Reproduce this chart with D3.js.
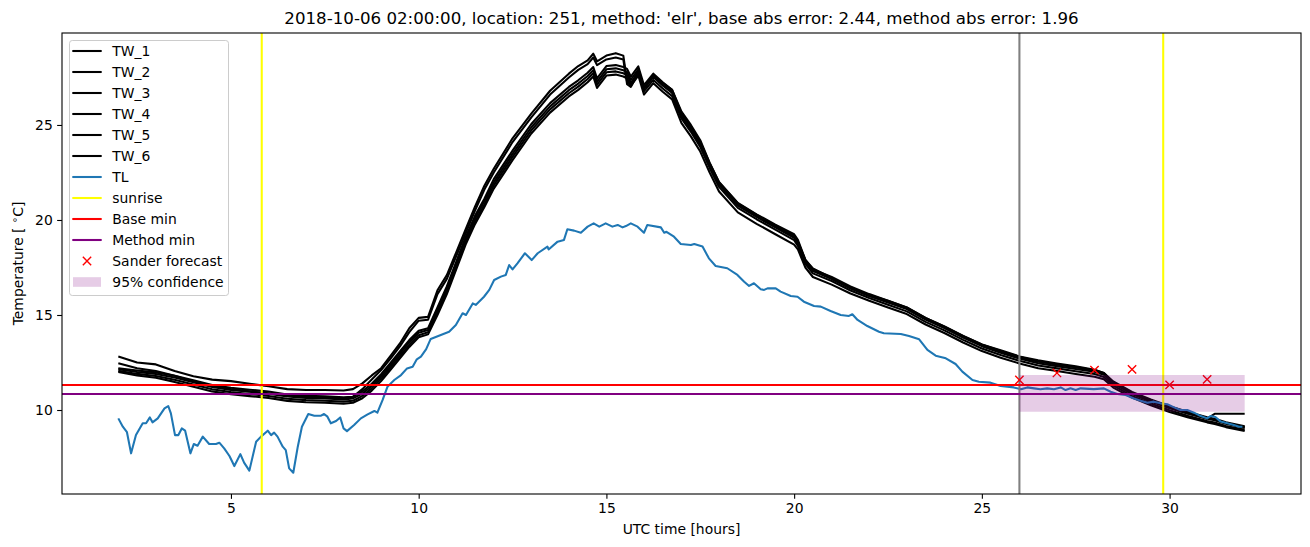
<!DOCTYPE html>
<html>
<head>
<meta charset="utf-8">
<script src="https://cdn.jsdelivr.net/npm/d3@7"></script>
<style>
  html, body { margin: 0; padding: 0; background: #fff; }
  svg { display: block; font-family: "DejaVu Sans", sans-serif; }
</style>
</head>
<body>
<svg id="chart" width="1310" height="547"></svg>
<script>
// ---------------- data ----------------
const twHours = [2, 2.5, 3, 3.5, 4, 4.5, 5, 5.5, 6, 6.5, 7, 7.5, 8, 8.25, 8.5, 8.75, 9, 9.25, 9.5, 9.75,
  10, 10.25, 10.5, 10.75, 11, 11.25, 11.5, 11.75, 12, 12.5, 13, 13.5, 14, 14.25, 14.5, 14.65, 14.75, 15, 15.25, 15.45,
  15.55, 15.65, 15.85, 16, 16.25, 16.5, 16.75, 17, 17.25, 17.5, 17.75, 18, 18.5, 19, 19.5, 20, 20.1, 20.3, 20.5, 21,
  21.5, 22, 22.5, 23, 23.5, 24, 24.5, 25, 25.5, 26, 26.5, 27, 27.5, 28, 28.25, 28.5, 29, 29.5, 30, 30.5,
  31, 31.2, 31.5, 32];

const TW_1 = [12.81, 12.50, 12.40, 12.05, 11.78, 11.60, 11.52, 11.38, 11.25, 11.10, 11.05, 11.05, 11.03, 11.10, 11.40, 11.82, 12.20, 12.85, 13.50, 14.30,
  14.85, 14.90, 16.30, 17.10, 18.30, 19.50, 20.70, 21.80, 22.70, 24.30, 25.60, 26.80, 27.70, 28.10, 28.40, 28.75, 28.35, 28.65, 28.78, 28.65,
  27.30, 27.10, 27.85, 26.95, 27.65, 27.20, 26.85, 25.70, 25.00, 24.20, 23.00, 22.00, 20.90, 20.30, 19.75, 19.25, 18.95, 17.90, 17.45, 16.95,
  16.45, 16.05, 15.75, 15.40, 14.85, 14.40, 13.90, 13.45, 13.15, 12.82, 12.62, 12.45, 12.30, 12.12, 11.95, 11.45, 10.90, 10.50, 10.15, 9.85,
  9.58, 9.50, 9.32, 9.10];
const TW_2 = [12.46, 12.20, 12.05, 11.80, 11.50, 11.25, 11.10, 10.98, 10.88, 10.75, 10.70, 10.65, 10.62, 10.70, 11.10, 11.60, 12.10, 12.70, 13.35, 14.10,
  14.70, 14.75, 16.10, 16.90, 18.10, 19.30, 20.50, 21.60, 22.50, 24.10, 25.40, 26.60, 27.50, 27.90, 28.20, 28.55, 28.15, 28.45, 28.55, 28.45,
  27.15, 27.00, 27.75, 26.90, 27.55, 27.10, 26.75, 25.60, 24.90, 24.10, 22.90, 21.90, 20.80, 20.20, 19.65, 19.10, 18.80, 17.85, 17.35, 16.90,
  16.40, 16.00, 15.70, 15.35, 14.80, 14.35, 13.85, 13.40, 13.05, 12.75, 12.55, 12.40, 12.25, 12.05, 11.90, 11.40, 10.85, 10.45, 10.10, 9.80,
  9.55, 9.80, 9.80, 9.80];
const TW_3 = [12.20, 12.08, 11.98, 11.80, 11.56, 11.32, 11.17, 11.07, 10.97, 10.82, 10.75, 10.72, 10.67, 10.70, 10.98, 11.38, 11.88, 12.48, 13.08, 13.68,
  14.17, 14.30, 15.40, 16.50, 17.80, 19.10, 20.22, 21.12, 22.15, 23.65, 25.05, 26.15, 27.00, 27.35, 27.75, 28.05, 27.45, 28.10, 28.15, 28.05,
  27.95, 27.55, 28.08, 27.10, 27.70, 27.25, 26.85, 25.60, 24.90, 24.10, 23.00, 21.98, 20.88, 20.27, 19.72, 19.17, 18.86, 17.90, 17.40, 17.00,
  16.50, 16.10, 15.75, 15.40, 14.85, 14.40, 13.90, 13.45, 13.10, 12.80, 12.55, 12.40, 12.25, 12.10, 11.95, 11.50, 10.95, 10.55, 10.20, 9.90,
  9.62, 9.54, 9.36, 9.14];
const TW_4 = [12.14, 12.00, 11.90, 11.71, 11.46, 11.21, 11.06, 10.96, 10.86, 10.71, 10.64, 10.61, 10.56, 10.61, 10.86, 11.26, 11.76, 12.36, 12.96, 13.57,
  14.06, 14.21, 15.27, 16.37, 17.68, 18.98, 20.08, 20.98, 21.98, 23.48, 24.88, 25.98, 26.83, 27.18, 27.58, 27.88, 27.28, 27.93, 27.98, 27.88,
  27.78, 27.38, 27.93, 26.93, 27.53, 27.08, 26.68, 25.46, 24.76, 23.96, 22.86, 21.86, 20.76, 20.16, 19.61, 19.06, 18.76, 17.81, 17.31, 16.91,
  16.41, 16.01, 15.66, 15.31, 14.76, 14.31, 13.81, 13.36, 13.01, 12.71, 12.46, 12.31, 12.16, 12.01, 11.86, 11.41, 10.86, 10.46, 10.11, 9.81,
  9.54, 9.46, 9.28, 9.06];
const TW_5 = [12.06, 11.90, 11.79, 11.59, 11.34, 11.09, 10.94, 10.84, 10.74, 10.59, 10.52, 10.49, 10.44, 10.49, 10.74, 11.14, 11.64, 12.24, 12.84, 13.43,
  13.94, 14.09, 15.13, 16.23, 17.52, 18.82, 19.92, 20.82, 21.82, 23.32, 24.72, 25.82, 26.67, 27.02, 27.42, 27.72, 27.12, 27.77, 27.82, 27.72,
  27.62, 27.22, 27.77, 26.77, 27.37, 26.92, 26.52, 25.34, 24.64, 23.84, 22.74, 21.74, 20.64, 20.04, 19.49, 18.94, 18.64, 17.69, 17.19, 16.79,
  16.29, 15.89, 15.54, 15.19, 14.64, 14.19, 13.69, 13.24, 12.89, 12.59, 12.34, 12.19, 12.04, 11.89, 11.74, 11.29, 10.74, 10.34, 9.99, 9.69,
  9.42, 9.34, 9.16, 8.96];
const TW_6 = [12.00, 11.82, 11.70, 11.48, 11.23, 10.98, 10.83, 10.73, 10.63, 10.48, 10.41, 10.38, 10.33, 10.38, 10.62, 11.02, 11.52, 12.12, 12.72, 13.32,
  13.83, 13.98, 15.00, 16.10, 17.40, 18.70, 19.78, 20.68, 21.65, 23.15, 24.55, 25.65, 26.50, 26.85, 27.25, 27.55, 26.95, 27.60, 27.65, 27.55,
  27.45, 27.05, 27.60, 26.60, 27.20, 26.75, 26.35, 25.10, 24.40, 23.60, 22.50, 21.50, 20.40, 19.80, 19.25, 18.70, 18.45, 17.50, 17.00, 16.60,
  16.13, 15.75, 15.40, 15.05, 14.50, 14.05, 13.55, 13.10, 12.75, 12.45, 12.20, 12.05, 11.90, 11.75, 11.62, 11.18, 10.65, 10.25, 9.90, 9.60,
  9.35, 9.27, 9.10, 8.90];

const tlHours = [2.0, 2.12, 2.23, 2.34, 2.47, 2.65, 2.74, 2.84, 2.91, 3.05, 3.23, 3.33, 3.40, 3.51, 3.60, 3.69, 3.78, 3.92, 4.01, 4.11,
  4.25, 4.42, 4.60, 4.69, 4.82, 4.96, 5.09, 5.25, 5.35, 5.49, 5.67, 5.80, 5.98, 6.07, 6.15, 6.24, 6.38, 6.46, 6.55, 6.66,
  6.78, 6.89, 7.06, 7.22, 7.40, 7.48, 7.57, 7.66, 7.80, 7.91, 8.00, 8.09, 8.28, 8.46, 8.64, 8.82, 8.90, 9.04, 9.17, 9.35,
  9.53, 9.69, 9.84, 9.95, 10.06, 10.20, 10.32, 10.59, 10.81, 10.99, 11.17, 11.26, 11.44, 11.52, 11.74, 11.88, 12.01, 12.19, 12.32, 12.41,
  12.50, 12.63, 12.83, 13.01, 13.17, 13.43, 13.46, 13.70, 13.87, 13.96, 14.14, 14.32, 14.50, 14.66, 14.81, 14.98, 15.16, 15.30, 15.43, 15.52,
  15.65, 15.83, 16.00, 16.09, 16.45, 16.54, 16.60, 16.80, 16.98, 17.25, 17.34, 17.56, 17.73, 17.91, 18.22, 18.49, 18.67, 18.80, 18.93, 19.11,
  19.20, 19.29, 19.51, 19.64, 19.91, 20.09, 20.26, 20.53, 20.71, 20.97, 21.24, 21.46, 21.55, 21.69, 21.95, 22.26, 22.39, 22.84, 23.06, 23.33,
  23.55, 23.77, 24.04, 24.30, 24.48, 24.75, 24.92, 25.23, 25.50, 25.85, 26.04, 26.21, 26.39, 26.56, 26.74, 26.92, 27.10, 27.23, 27.36, 27.50,
  27.63, 27.98, 28.25, 28.43, 28.61, 28.83, 29.05, 29.23, 29.41, 29.58, 29.76, 29.94, 30.12, 30.29, 30.47, 30.65, 30.83, 31.00, 31.09, 31.22,
  31.36, 31.54, 31.71, 31.85, 31.94];
const TL = [9.56, 9.12, 8.83, 7.72, 8.68, 9.30, 9.30, 9.61, 9.35, 9.56, 10.09, 10.21, 9.82, 8.68, 8.68, 9.03, 8.91, 7.72, 8.21, 8.12,
  8.60, 8.21, 8.21, 8.28, 7.98, 7.58, 7.05, 7.68, 7.23, 6.81, 8.33, 8.60, 8.91, 8.68, 8.81, 8.60, 8.07, 7.89, 6.93, 6.70,
  8.07, 9.12, 9.79, 9.70, 9.70, 9.79, 9.65, 9.30, 9.42, 9.61, 9.03, 8.89, 9.21, 9.56, 9.77, 9.95, 9.86, 10.53, 11.23, 11.58,
  11.84, 12.19, 12.28, 12.67, 12.81, 13.20, 13.74, 13.95, 14.12, 14.47, 15.09, 15.00, 15.61, 15.53, 15.96, 16.32, 16.84, 17.02, 17.11, 17.63,
  17.40, 17.72, 18.25, 17.89, 18.25, 18.60, 18.45, 18.86, 18.95, 19.51, 19.44, 19.33, 19.65, 19.82, 19.65, 19.82, 19.65, 19.74, 19.61, 19.68,
  19.82, 19.65, 19.33, 19.74, 19.61, 19.33, 19.38, 19.12, 18.74, 18.68, 18.74, 18.60, 17.98, 17.58, 17.46, 17.11, 16.75, 16.53, 16.67, 16.35,
  16.32, 16.40, 16.40, 16.23, 16.00, 15.96, 15.70, 15.47, 15.44, 15.21, 15.00, 14.95, 15.04, 14.74, 14.42, 14.12, 14.04, 14.00, 13.89, 13.72,
  13.16, 12.86, 12.72, 12.42, 12.02, 11.58, 11.49, 11.44, 11.26, 11.19, 11.09, 11.19, 11.14, 11.09, 11.14, 11.09, 11.19, 11.05, 11.14, 11.05,
  11.14, 11.10, 11.14, 10.96, 10.84, 10.79, 10.61, 10.49, 10.38, 10.44, 10.35, 10.30, 10.14, 10.00, 10.00, 9.86, 9.68, 9.56, 9.68, 9.63,
  9.39, 9.30, 9.21, 9.12, 9.12];

const sunriseHours = [5.82, 29.83];
const nowHour = [26.0];
const baseMin = [11.32];
const methodMin = [10.84];
const sanderHours = [26, 27, 28, 29, 30, 31];
const sanderValues = [11.58, 11.95, 12.10, 12.14, 11.32, 11.61];
const confHours = [26, 32];
const confLow = [9.91, 9.91];
const confHigh = [11.84, 11.84];

const xTicks = [5, 10, 15, 20, 25, 30];
const yTicks = [10, 15, 20, 25];
const legendLabels = ["TW_1", "TW_2", "TW_3", "TW_4", "TW_5", "TW_6", "TL", "sunrise", "Base min", "Method min", "Sander forecast", "95% confidence"];
const titleText = "2018-10-06 02:00:00, location: 251, method: 'elr', base abs error: 2.44, method abs error: 1.96";

// ---------------- layout ----------------
const L = 62, R = 1301, T = 33, B = 494;
const LW = 2.08;
const svg = d3.select("#chart");
const x = d3.scaleLinear().domain([0.5, 33.5]).range([L, R]);
const y = d3.scaleLinear().domain([5.58, 29.84]).range([B, T]);

svg.append("defs").append("clipPath").attr("id", "clip")
  .append("rect").attr("x", L).attr("y", T).attr("width", R - L).attr("height", B - T);

const plot = svg.append("g").attr("clip-path", "url(#clip)");

const line = d3.line().x(d => x(d[0])).y(d => y(d[1]));
const twSeries = [TW_1, TW_2, TW_3, TW_4, TW_5, TW_6];
twSeries.forEach(vals => {
  plot.append("path")
    .attr("d", line(twHours.map((h, i) => [h, vals[i]])))
    .attr("fill", "none").attr("stroke", "#000").attr("stroke-width", LW)
    .attr("stroke-linejoin", "round");
});
plot.append("path")
  .attr("d", line(tlHours.map((h, i) => [h, TL[i]])))
  .attr("fill", "none").attr("stroke", "#1f77b4").attr("stroke-width", LW)
  .attr("stroke-linejoin", "round");

// vertical lines
sunriseHours.forEach(h => {
  plot.append("line").attr("x1", x(h)).attr("x2", x(h)).attr("y1", T).attr("y2", B)
    .attr("stroke", "#ffff00").attr("stroke-width", LW);
});
nowHour.forEach(h => {
  plot.append("line").attr("x1", x(h)).attr("x2", x(h)).attr("y1", T).attr("y2", B)
    .attr("stroke", "#808080").attr("stroke-width", LW);
});
// horizontal lines
plot.append("line").attr("x1", L).attr("x2", R).attr("y1", y(baseMin[0])).attr("y2", y(baseMin[0]))
  .attr("stroke", "#ff0000").attr("stroke-width", LW);
plot.append("line").attr("x1", L).attr("x2", R).attr("y1", y(methodMin[0])).attr("y2", y(methodMin[0]))
  .attr("stroke", "#800080").attr("stroke-width", LW);

// sander markers
const mk = 4.17;
sanderHours.forEach((h, i) => {
  const cx = x(h), cy = y(sanderValues[i]);
  plot.append("path")
    .attr("d", `M${cx - mk},${cy - mk}L${cx + mk},${cy + mk}M${cx - mk},${cy + mk}L${cx + mk},${cy - mk}`)
    .attr("stroke", "#ff0000").attr("stroke-width", 1.4).attr("fill", "none");
});

// confidence band
const area = d3.area().x(d => x(d[0])).y0(d => y(d[1])).y1(d => y(d[2]));
plot.append("path")
  .attr("d", area(confHours.map((h, i) => [h, confLow[i], confHigh[i]])))
  .attr("fill", "#800080").attr("fill-opacity", 0.2);

// ---------------- axes ----------------
const fs = 13.9;
const xAxis = svg.append("g").attr("transform", `translate(0,${B})`)
  .call(d3.axisBottom(x).tickValues(xTicks).tickSize(4.86).tickPadding(4.4).tickFormat(d3.format("d")));
const yAxis = svg.append("g").attr("transform", `translate(${L},0)`)
  .call(d3.axisLeft(y).tickValues(yTicks).tickSize(4.86).tickPadding(4.4).tickFormat(d3.format("d")));
[xAxis, yAxis].forEach(a => {
  a.select(".domain").remove();
  a.selectAll(".tick line").attr("stroke", "#000").attr("stroke-width", 1.1);
  a.selectAll(".tick text").attr("fill", "#000").style("font-size", fs + "px")
    .style("font-family", "'DejaVu Sans', sans-serif");
});

// spines
svg.append("rect").attr("x", L).attr("y", T).attr("width", R - L).attr("height", B - T)
  .attr("fill", "none").attr("stroke", "#000").attr("stroke-width", 1.1);

// title and labels
svg.append("text").attr("x", (L + R) / 2).attr("y", 24).attr("text-anchor", "middle")
  .style("font-size", "16.67px").attr("fill", "#000").text(titleText);
svg.append("text").attr("x", (L + R) / 2).attr("y", 534).attr("text-anchor", "middle")
  .style("font-size", fs + "px").attr("fill", "#000").text("UTC time [hours]");
const yl = svg.append("text").attr("transform", `translate(23,${(T + B) / 2}) rotate(-90)`)
  .attr("text-anchor", "middle").style("font-size", fs + "px").attr("fill", "#000");
yl.append("tspan").text("Temperature [ ");
yl.append("tspan").attr("dy", -5).style("font-size", "10px").text("∘");
yl.append("tspan").attr("dy", 5).text("C]");

// ---------------- legend ----------------
const lg = svg.append("g");
lg.append("rect").attr("x", 69.5).attr("y", 40.5).attr("width", 159).attr("height", 255).attr("rx", 2.8)
  .attr("fill", "#fff").attr("fill-opacity", 0.8).attr("stroke", "#cccccc").attr("stroke-width", 1);
const legendColors = ["#000", "#000", "#000", "#000", "#000", "#000", "#1f77b4", "#ffff00", "#ff0000", "#800080"];
legendLabels.forEach((lab, i) => {
  const cy = 51 + i * 21.0;
  if (i < 10) {
    lg.append("line").attr("x1", 72.3).attr("x2", 101.7).attr("y1", cy).attr("y2", cy)
      .attr("stroke", legendColors[i]).attr("stroke-width", LW);
  } else if (i === 10) {
    const cx = 87;
    lg.append("path")
      .attr("d", `M${cx - mk},${cy - mk}L${cx + mk},${cy + mk}M${cx - mk},${cy + mk}L${cx + mk},${cy - mk}`)
      .attr("stroke", "#ff0000").attr("stroke-width", 1.4).attr("fill", "none");
  } else {
    lg.append("rect").attr("x", 73).attr("y", cy - 4.8).attr("width", 28).attr("height", 9.6)
      .attr("fill", "#800080").attr("fill-opacity", 0.2);
  }
  lg.append("text").attr("x", 112.3).attr("y", cy + 5).style("font-size", fs + "px").attr("fill", "#000").text(lab);
});
</script>
</body>
</html>
